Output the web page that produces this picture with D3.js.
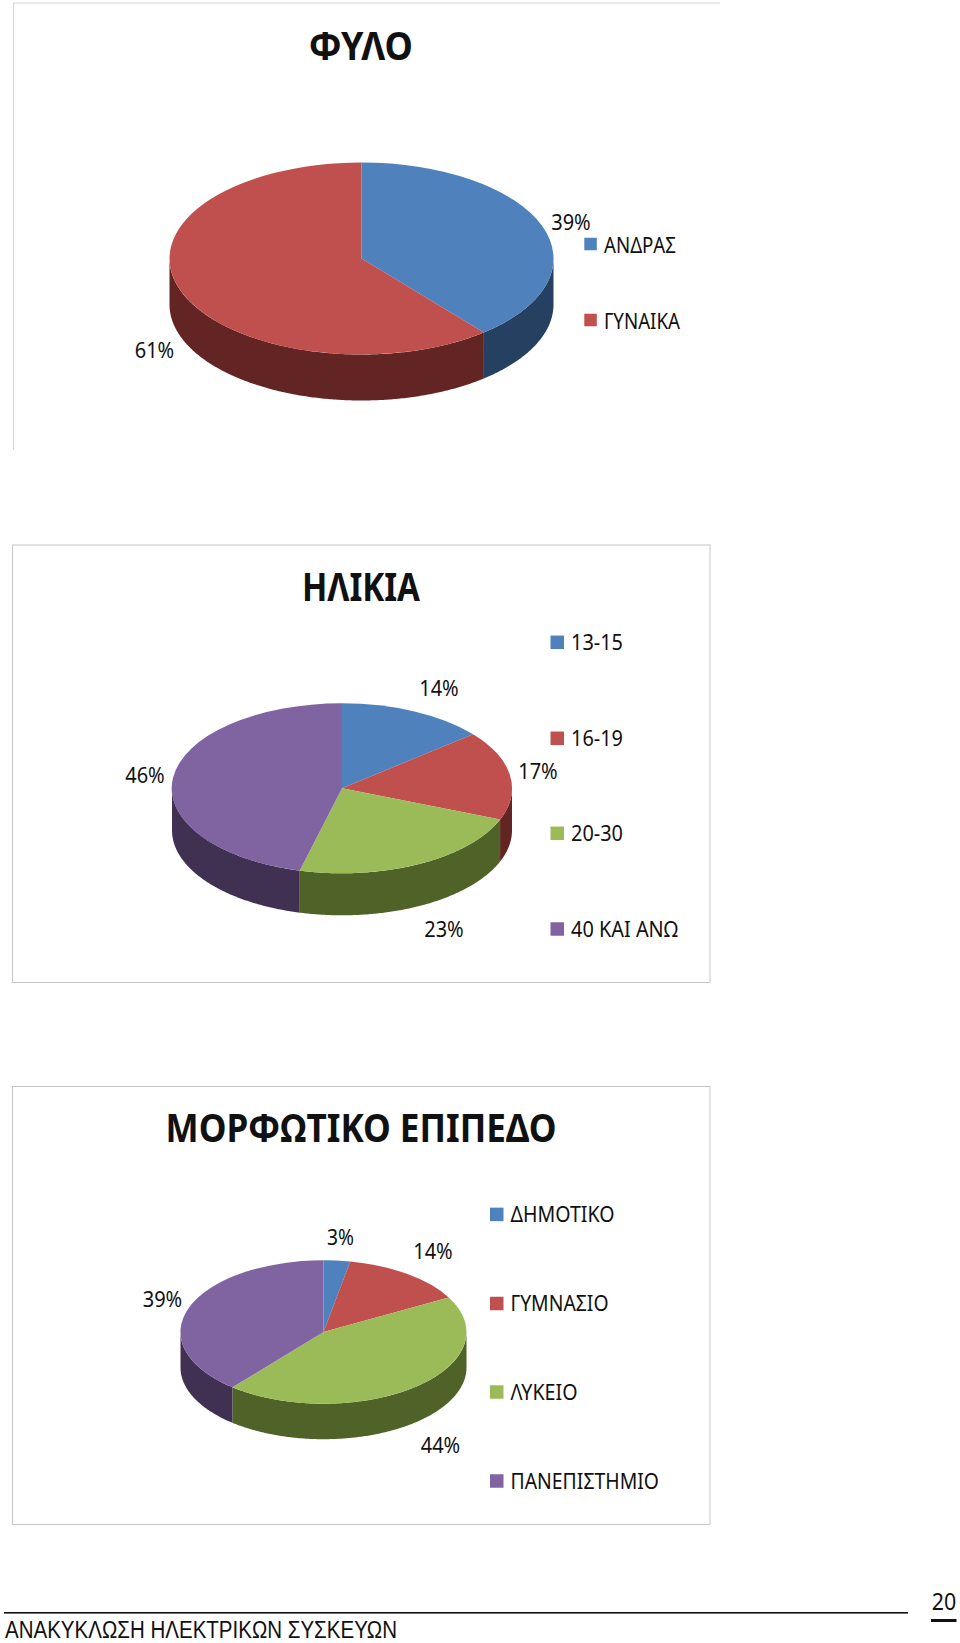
<!DOCTYPE html>
<html>
<head>
<meta charset="utf-8">
<script src="https://cdn.jsdelivr.net/npm/d3@7/dist/d3.min.js"></script>
<style>
html,body{margin:0;padding:0;background:#fff}
svg{display:block}
text{font-family:"Noto Sans","Open Sans",sans-serif;fill:#111}
</style>
</head>
<body>
<svg id="c" width="960" height="1643"></svg>
<script>
// ---- data ----
const genderTitle = "ΦΥΛΟ";
const genderCategories = ["ΑΝΔΡΑΣ", "ΓΥΝΑΙΚΑ"];
const genderValues = [39, 61];

const ageTitle = "ΗΛΙΚΙΑ";
const ageCategories = ["13-15", "16-19", "20-30", "40 ΚΑΙ ΑΝΩ"];
const ageValues = [14, 17, 23, 46];

const eduTitle = "ΜΟΡΦΩΤΙΚΟ ΕΠΙΠΕΔΟ";
const eduCategories = ["ΔΗΜΟΤΙΚΟ", "ΓΥΜΝΑΣΙΟ", "ΛΥΚΕΙΟ", "ΠΑΝΕΠΙΣΤΗΜΙΟ"];
const eduValues = [3, 14, 44, 39];

const footerText = "ΑΝΑΚΥΚΛΩΣΗ ΗΛΕΚΤΡΙΚΩΝ ΣΥΣΚΕΥΩΝ";
const pageNumber = "20";

// ---- styles ----
const topColors = ["#4F81BD", "#C0504D", "#9BBB59", "#8064A2"];
const sideColors = ["#254061", "#632523", "#4F6228", "#403152"];

// ---- layout ----
const charts = [
  { title: genderTitle, cats: genderCategories, vals: genderValues,
    titleX: 361, titleY: 59.5, titleW: 104,
    cx: 361.5, cy: 258.5, rx: 192, ry: 96, depth: 46,
    labels: [[571, 222.5], [154.5, 350]],
    swatchX: 584.3, swatch: 12.5, legendTextX: 604, legendY: [244, 320], legendDy: 9.3, legendW: [72, 76] },
  { title: ageTitle, cats: ageCategories, vals: ageValues,
    titleX: 361, titleY: 600.5, titleW: 118,
    cx: 342, cy: 788.3, rx: 170, ry: 85, depth: 42,
    labels: [[439, 688], [538, 771.5], [444, 929.5], [145, 775.5]],
    swatchX: 550.5, swatch: 13.5, legendTextX: 571, legendY: [642.3, 738.3, 833.3, 929], legendDy: 7.5, legendW: [52, 52, 52, 107] },
  { title: eduTitle, cats: eduCategories, vals: eduValues,
    titleX: 361, titleY: 1142, titleW: 391,
    cx: 323.5, cy: 1332, rx: 143, ry: 71.7, depth: 35.5,
    labels: [[340.5, 1237.5], [433, 1251.5], [440.5, 1445.5], [162.5, 1299.5]],
    swatchX: 490, swatch: 13.5, legendTextX: 510.5, legendY: [1214.4, 1303.5, 1392, 1481], legendDy: 7.5, legendW: [104, 98, 67, 148.5] }
];

const svg = d3.select("#c");

// text with a fixed rendered width (condensed face)
function fitted(sel, str, x, y, size, width, anchor, weight) {
  return sel.append("text")
    .attr("x", x).attr("y", y)
    .attr("font-size", size)
    .attr("font-weight", weight || 400)
    .attr("text-anchor", anchor || "start")
    .attr("textLength", width)
    .attr("lengthAdjust", "spacingAndGlyphs")
    .text(str);
}

// frames
svg.append("path").attr("d", "M13.5 450V3H720").attr("fill", "none").attr("stroke", "#d6d6d6").attr("stroke-width", 1.2);
svg.append("rect").attr("x", 12.5).attr("y", 545).attr("width", 697.5).attr("height", 437.5).attr("fill", "none").attr("stroke", "#c6c6c6");
svg.append("rect").attr("x", 12.5).attr("y", 1086.5).attr("width", 697.5).attr("height", 438).attr("fill", "none").attr("stroke", "#c6c6c6");

charts.forEach(ch => {
  const g = svg.append("g");
  fitted(g, ch.title, ch.titleX, ch.titleY, 40, ch.titleW, "middle", 700);

  const slices = d3.pie().sort(null)(ch.vals);
  const x = d3.scaleLinear().domain([-1, 1]).range([ch.cx - ch.rx, ch.cx + ch.rx]);
  const y = d3.scaleLinear().domain([-1, 1]).range([ch.cy - ch.ry, ch.cy + ch.ry]);

  // side walls: the front half of the rim (angles from 90° to 270°, clockwise from the top)
  const wall = d3.area()
    .x(t => x(Math.sin(t)))
    .y0(t => y(-Math.cos(t)))
    .y1(t => y(-Math.cos(t)) + ch.depth);
  slices.forEach((s, i) => {
    const a0 = Math.max(s.startAngle, Math.PI / 2);
    const a1 = Math.min(s.endAngle, 3 * Math.PI / 2);
    if (a1 <= a0) return;
    const n = Math.max(2, Math.ceil((a1 - a0) / 0.01));
    const ts = d3.range(n + 1).map(k => a0 + (a1 - a0) * k / n);
    g.append("path").attr("d", wall(ts)).attr("fill", sideColors[i]);
  });

  // top face
  const arc = d3.arc().innerRadius(0).outerRadius(1);
  const top = g.append("g")
    .attr("transform", `translate(${ch.cx},${ch.cy}) scale(${ch.rx},${ch.ry})`);
  top.selectAll("path").data(slices).join("path")
    .attr("d", arc)
    .attr("fill", (d, i) => topColors[i]);

  // value labels
  ch.vals.forEach((v, i) => {
    const [lx, ly] = ch.labels[i];
    const str = v + "%";
    g.append("text")
      .attr("x", lx).attr("y", ly + 7.5)
      .attr("font-size", 21)
      .attr("text-anchor", "middle")
      .attr("textLength", str.length === 2 ? 27 : 39.5)
      .attr("lengthAdjust", "spacingAndGlyphs")
      .text(str);
  });

  // legend
  ch.cats.forEach((c, i) => {
    const ly = ch.legendY[i];
    g.append("rect")
      .attr("x", ch.swatchX).attr("y", ly - ch.swatch / 2)
      .attr("width", ch.swatch).attr("height", ch.swatch)
      .attr("fill", topColors[i]);
    fitted(g, c, ch.legendTextX, ly + ch.legendDy, 21, ch.legendW[i]);
  });
});

// footer
svg.append("rect").attr("x", 4).attr("y", 1612).attr("width", 904).attr("height", 1.6).attr("fill", "#111");
fitted(svg, footerText, 5, 1638, 23, 392).style("font-family", '"Liberation Sans", sans-serif');
fitted(svg, pageNumber, 931.7, 1610, 23, 24.5);
svg.append("rect").attr("x", 931).attr("y", 1619).attr("width", 25.5).attr("height", 3).attr("fill", "#111");
</script>
</body>
</html>
